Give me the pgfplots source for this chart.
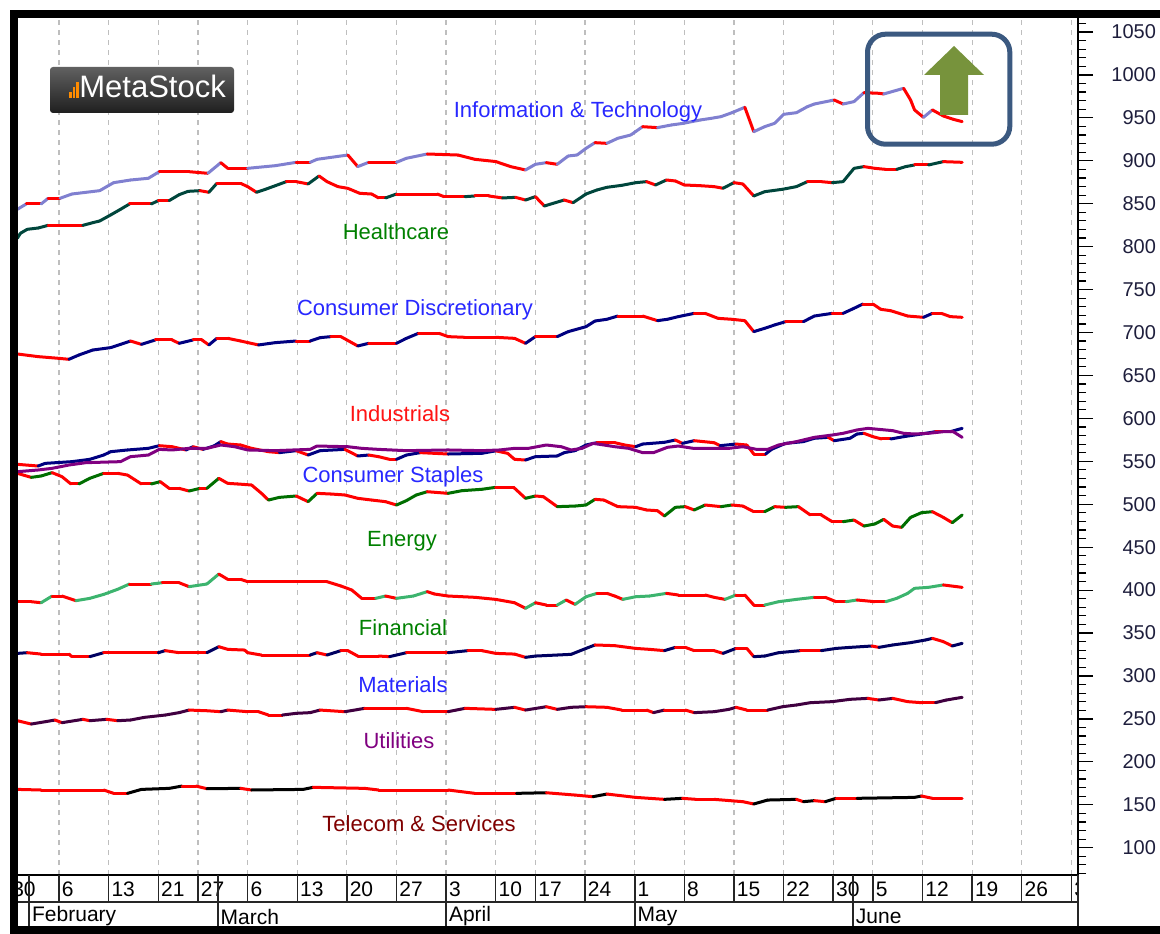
\documentclass[border=0pt]{standalone}
\usepackage{pgfplots}
\usepackage{pgfplotstable}
\pgfplotsset{compat=1.18}
\usepackage{fontspec}
\setmainfont{Liberation Sans}

\definecolor{lblblue}{RGB}{40,40,255}
\definecolor{lblgreen}{RGB}{0,128,0}
\definecolor{lblred}{RGB}{255,20,20}
\definecolor{lblpurple}{RGB}{128,0,128}
\definecolor{lbldred}{RGB}{128,0,0}
\definecolor{boxblue}{RGB}{59,89,128}
\definecolor{arrowgreen}{RGB}{119,147,60}
\definecolor{staples}{RGB}{128,0,128}
\definecolor{gridgray}{RGB}{190,190,190}
\definecolor{ticktext}{RGB}{30,30,60}

\pgfplotsset{
 colormap={cIT}{rgb255=(255,0,0) rgb255=(128,128,208)},
 colormap={cHC}{rgb255=(255,0,0) rgb255=(0,70,60)},
 colormap={cCD}{rgb255=(255,0,0) rgb255=(0,0,128)},
 colormap={cIN}{rgb255=(255,0,0) rgb255=(0,0,128)},
 colormap={cEN}{rgb255=(255,0,0) rgb255=(0,110,0)},
 colormap={cFI}{rgb255=(255,0,0) rgb255=(60,180,110)},
 colormap={cMA}{rgb255=(255,0,0) rgb255=(0,0,96)},
 colormap={cUT}{rgb255=(255,0,0) rgb255=(64,0,64)},
 colormap={cTE}{rgb255=(255,0,0) rgb255=(0,0,0)},
}

\pgfplotstableread{
i v
0.8 843.5
1.7 849.7
3.2 849.7
3.9 856.3
5.1 856.3
6.3 861.3
9.1 865.2
10.5 874.5
12.2 877.6
14.0 879.6
15.1 887.3
18.1 887.3
20.0 885.4
21.3 897.8
22.0 891.2
24.0 891.2
26.8 894.3
28.9 898.2
30.3 898.2
31.0 901.7
34.1 906.7
35.1 893.2
36.2 898.2
39.0 898.2
40.0 902.9
42.1 907.9
45.2 906.7
46.9 901.7
49.0 899.1
50.5 893.2
52.0 889.3
53.0 895.9
54.1 897.8
55.2 895.9
56.3 905.6
57.2 906.7
58.1 914.5
59.0 921.1
60.2 920.3
61.3 926.2
62.6 930.0
63.8 939.7
65.3 938.6
66.7 941.7
67.9 943.6
69.6 947.5
70.7 949.4
71.7 951.4
72.8 956.0
74.1 962.3
75.0 933.9
76.1 939.7
77.1 943.6
78.0 954.1
79.3 956.0
80.4 963.0
81.1 966.1
83.1 970.8
84.0 966.1
85.1 968.9
86.1 979.3
87.6 978.6
88.1 977.8
90.1 984.4
90.8 970.8
91.2 959.2
92.1 950.6
93.0 959.2
94.1 952.2
95.1 948.3
96.0 945.6
}\tIT

\pgfplotstableread{
i v
0.8 809.7
1.1 815.5
1.8 820.2
2.9 821.7
3.9 824.8
7.4 824.8
8.4 827.9
9.1 829.9
10.2 836.9
11.2 843.5
12.1 849.7
14.3 849.7
15.0 853.6
16.1 853.6
17.1 860.5
18.0 864.4
19.2 865.2
20.1 863.3
20.9 873.7
23.3 873.7
24.0 869.9
24.9 863.3
25.8 866.8
26.8 871.0
27.9 875.7
28.9 875.7
30.1 873.0
31.2 882.3
32.0 875.7
33.1 869.9
34.1 867.9
35.3 862.1
36.5 861.3
37.2 856.7
37.9 856.7
39.0 861.3
43.1 861.3
43.8 858.2
45.9 858.2
46.9 859.0
48.3 859.0
49.7 856.7
51.0 857.4
52.0 854.3
53.0 858.2
53.9 847.3
54.8 850.5
55.9 854.3
56.8 851.2
58.1 861.3
59.2 866.0
60.2 869.1
61.7 871.4
63.1 874.5
64.2 875.7
65.1 871.8
66.2 877.6
67.1 876.5
68.0 871.8
69.6 871.0
71.0 869.9
71.9 868.0
73.0 874.5
73.9 873.0
75.0 859.0
76.1 864.0
77.9 866.8
79.3 869.9
80.4 875.7
81.8 875.7
82.9 874.5
84.0 875.7
85.1 891.2
86.1 893.2
87.2 891.2
88.3 890.0
89.4 890.0
90.3 893.2
91.2 895.1
92.6 895.1
94.1 899.0
96.0 898.2
}\tHC

\pgfplotstableread{
i v
0.8 675.0
2.9 671.9
5.0 669.9
6.0 668.8
7.0 673.8
8.4 679.6
10.2 682.4
11.2 686.2
12.2 690.1
13.3 686.2
14.7 691.3
16.4 691.3
17.1 687.4
18.5 691.3
19.4 691.3
20.1 685.5
20.9 693.2
22.0 693.2
23.3 690.1
25.1 685.5
26.8 688.2
28.9 690.1
30.3 690.1
31.3 694.0
32.4 695.2
33.4 695.2
35.1 684.3
36.2 687.4
39.0 687.4
40.0 693.2
41.2 699.0
43.3 699.0
44.2 695.2
45.9 694.4
49.0 694.4
50.9 693.2
52.0 687.4
53.0 695.2
55.2 695.2
56.3 701.0
58.1 706.8
59.0 713.4
60.2 715.4
61.3 719.2
63.8 719.2
65.3 713.8
66.3 715.4
67.4 718.5
69.0 722.3
70.1 722.3
71.4 716.5
72.8 715.4
74.1 713.8
75.0 701.0
76.1 704.9
77.1 708.8
78.2 712.6
80.0 712.6
81.1 719.2
82.9 722.3
84.0 722.3
85.1 728.2
86.0 733.2
87.0 733.2
87.8 727.0
88.8 725.4
90.5 719.2
92.1 717.7
93.0 722.3
93.9 722.3
94.8 718.5
96.0 717.7
}\tCD

\pgfplotstableread{
i v
0.8 546.5
2.9 544.5
3.6 547.6
6.3 549.6
8.1 552.3
9.5 557.3
10.2 561.2
11.9 563.2
14.0 565.1
15.1 568.2
16.4 567.0
17.8 563.2
18.5 567.0
19.5 563.9
20.6 567.8
21.3 572.9
22.0 570.1
23.3 569.0
24.4 565.1
26.1 561.2
27.2 560.1
28.9 562.4
30.1 557.3
31.3 562.4
33.8 563.9
35.1 556.2
36.2 557.3
37.2 555.4
38.3 552.3
39.0 552.3
40.0 557.3
41.4 560.1
44.2 558.5
47.6 559.3
49.0 562.2
50.2 559.3
50.9 552.3
52.0 551.5
53.0 555.4
55.2 556.2
55.9 560.1
57.0 562.4
58.1 569.0
59.2 571.7
61.0 571.7
62.0 569.0
63.1 567.0
63.8 570.1
66.0 572.1
67.1 574.8
67.8 570.9
69.0 574.0
71.0 571.7
71.6 568.2
73.2 570.1
74.3 569.0
75.0 558.5
76.2 558.5
76.8 564.0
78.2 570.9
80.0 572.9
81.1 576.8
82.5 577.9
83.1 574.0
84.7 576.8
85.4 581.8
86.1 582.6
87.0 578.7
87.9 576.0
88.8 576.0
90.1 578.7
91.9 581.8
93.3 584.5
94.8 584.5
96.0 588.4
}\tIN

\pgfplotstableread{
i v
0.8 537.9
2.9 539.9
4.3 541.8
6.0 545.7
7.7 548.4
11.2 549.6
12.2 555.4
14.0 557.3
15.1 563.9
16.4 563.2
18.1 565.1
19.9 565.1
21.3 569.0
22.7 567.0
24.0 563.2
26.8 562.4
28.6 563.2
30.3 563.9
31.0 567.8
34.1 567.0
35.5 565.1
37.2 563.9
40.0 562.4
44.2 563.2
47.6 562.4
49.4 563.2
50.9 565.1
52.3 565.1
54.1 569.0
55.6 567.0
56.6 563.2
57.7 565.1
58.8 570.9
59.9 569.0
61.0 567.0
62.4 565.1
63.8 560.1
64.9 560.1
66.3 566.3
67.4 567.8
68.9 565.1
72.5 565.1
73.9 567.0
75.3 563.9
76.4 563.9
77.5 569.0
79.3 572.9
81.1 577.9
82.9 580.6
84.0 582.6
85.4 586.5
86.5 588.4
87.6 587.2
89.0 585.7
90.1 582.6
91.2 581.8
92.6 582.6
94.1 584.5
95.1 584.5
96.0 577.9
}\tCS

\pgfplotstableread{
i v
0.8 536.0
2.2 531.3
3.2 532.9
4.3 536.8
5.3 532.1
6.2 523.6
7.0 523.6
8.1 530.2
9.5 536.0
10.9 536.0
11.9 534.0
13.3 523.6
14.3 523.6
15.2 526.3
16.1 518.5
17.1 518.5
18.1 515.4
19.2 518.5
19.9 518.5
21.1 530.2
22.0 524.3
23.0 523.6
24.4 522.4
25.4 512.7
26.1 504.9
27.2 508.0
28.9 509.6
30.1 503.0
31.0 512.7
32.4 511.9
33.8 510.8
35.1 506.9
36.5 504.9
37.9 503.0
39.0 499.1
40.0 504.2
41.0 510.8
42.1 514.6
44.2 512.7
45.6 515.8
47.6 517.4
49.0 519.7
50.8 519.7
52.0 506.9
53.0 509.6
53.8 508.8
55.2 497.2
57.0 497.9
58.1 499.1
59.0 505.7
59.9 504.9
61.3 497.2
63.1 496.4
64.2 493.3
65.3 492.5
66.0 486.3
67.1 496.4
68.1 497.2
69.0 493.3
70.1 499.1
71.7 497.2
72.8 499.1
73.9 497.9
75.0 491.3
76.1 491.3
77.1 497.2
78.2 496.4
79.5 497.2
80.7 487.5
81.8 487.5
82.9 479.7
84.0 479.7
85.1 481.6
86.1 474.6
87.2 477.0
88.1 482.4
89.0 474.6
89.9 473.1
90.8 484.7
91.9 490.2
93.0 491.3
94.1 484.7
95.0 478.5
96.0 487.5
}\tEN

\pgfplotstableread{
i v
0.8 386.5
2.2 386.5
3.2 385.3
4.3 393.1
5.3 393.1
6.7 387.7
8.1 390.4
9.5 395.0
10.9 400.9
12.1 407.1
14.3 407.1
15.4 408.6
17.1 408.6
18.1 404.0
19.9 407.1
21.1 418.7
22.0 412.5
23.3 412.5
24.0 409.8
32.0 409.8
33.4 404.8
34.5 400.1
35.5 390.4
36.9 390.4
37.9 393.1
39.0 390.4
40.7 393.1
42.1 398.2
42.8 395.5
44.2 393.1
46.9 391.6
49.0 389.2
50.9 385.3
52.0 378.8
53.0 385.3
54.1 382.6
55.2 382.6
56.1 388.5
57.0 383.4
58.1 392.3
59.2 396.2
60.2 396.2
61.0 393.1
61.8 389.2
63.1 392.3
64.5 393.1
66.2 396.2
67.4 394.3
70.1 394.3
71.0 391.6
72.1 389.2
73.2 394.3
74.1 394.3
75.0 382.6
76.1 382.6
77.5 386.5
79.3 389.2
81.1 391.6
82.2 391.6
83.3 386.5
84.3 386.5
85.4 388.5
87.2 386.5
88.3 386.5
89.4 390.4
90.5 396.2
91.2 402.1
92.6 403.2
94.1 406.0
96.0 403.2
}\tFI

\pgfplotstableread{
i v
0.8 326.3
1.8 327.1
3.2 325.5
6.0 325.5
6.3 322.5
8.1 322.5
9.5 327.1
15.0 327.1
15.7 329.5
17.1 327.1
19.9 327.1
21.1 334.1
22.0 331.0
23.7 330.2
24.0 327.1
25.4 324.4
30.3 324.4
31.0 327.1
32.0 324.4
33.4 329.5
34.1 329.5
35.1 323.2
37.2 323.2
38.3 322.5
40.0 327.1
44.2 327.1
46.2 329.5
47.6 329.5
49.0 326.3
50.9 325.5
52.0 321.7
53.0 323.2
55.2 324.4
56.6 325.2
58.1 332.1
59.0 336.1
61.0 335.3
63.1 332.1
64.5 331.0
66.0 329.5
67.1 333.3
68.1 333.3
69.0 329.5
71.0 329.5
71.9 326.3
73.2 332.1
74.3 332.1
75.0 322.5
76.1 323.2
77.5 327.1
79.7 329.5
81.8 329.5
83.3 332.1
84.7 333.3
86.9 334.9
87.6 333.3
89.0 336.1
90.8 338.8
92.3 341.9
93.0 343.8
94.1 340.0
95.0 334.9
96.0 338.0
}\tMA

\pgfplotstableread{
i v
0.8 247.9
2.2 244.0
3.6 246.7
4.6 248.7
5.3 245.6
7.4 249.5
8.1 247.9
9.8 249.5
10.9 247.9
12.2 248.7
13.6 251.8
15.7 254.5
17.1 257.3
18.1 260.3
19.9 259.5
21.3 258.4
22.0 260.3
24.0 258.4
25.1 258.4
26.1 254.5
27.5 254.5
28.9 256.5
30.3 257.3
31.3 260.3
33.8 258.4
35.8 262.3
40.0 262.3
41.7 258.4
44.2 258.4
45.9 262.3
49.0 261.1
50.9 263.5
52.0 260.3
54.1 264.2
55.2 261.1
56.6 263.5
58.1 264.2
60.2 263.5
61.7 260.3
64.2 260.3
64.9 257.3
66.0 260.3
68.1 260.3
69.0 257.3
71.0 258.4
72.5 261.1
73.2 263.5
74.3 260.3
76.4 260.3
77.9 264.2
79.3 266.2
80.7 268.9
82.9 270.1
84.7 272.8
86.5 273.9
87.6 272.0
89.0 273.9
90.5 270.1
91.9 268.9
93.3 268.9
94.4 272.0
96.0 275.1
}\tUT

\pgfplotstableread{
i v
0.8 167.9
3.2 167.2
9.5 167.2
10.5 163.3
11.9 163.3
13.3 167.9
16.1 169.1
17.4 171.8
18.8 171.8
19.9 168.7
23.3 169.1
24.4 167.2
29.6 167.9
30.6 170.3
35.8 169.1
37.2 167.2
44.2 167.2
46.9 163.3
51.1 163.3
54.1 164.0
57.0 161.3
58.8 159.4
60.2 162.5
63.1 158.6
66.0 156.3
67.8 157.5
69.2 156.3
71.0 156.3
73.9 153.6
75.0 150.9
76.4 155.5
79.3 156.3
80.0 153.6
81.1 154.8
82.2 153.6
83.3 157.5
85.4 157.5
91.2 158.6
91.9 160.2
93.0 157.5
96.0 157.5
}\tTE

\pgfplotstablecreatecol[create col/expr={\nextrow{v}-\thisrow{v}}]{d}{\tIT}
\pgfplotstablecreatecol[create col/expr={\nextrow{v}-\thisrow{v}}]{d}{\tHC}
\pgfplotstablecreatecol[create col/expr={\nextrow{v}-\thisrow{v}}]{d}{\tCD}
\pgfplotstablecreatecol[create col/expr={\nextrow{v}-\thisrow{v}}]{d}{\tIN}
\pgfplotstablecreatecol[create col/expr={\nextrow{v}-\thisrow{v}}]{d}{\tEN}
\pgfplotstablecreatecol[create col/expr={\nextrow{v}-\thisrow{v}}]{d}{\tFI}
\pgfplotstablecreatecol[create col/expr={\nextrow{v}-\thisrow{v}}]{d}{\tMA}
\pgfplotstablecreatecol[create col/expr={\nextrow{v}-\thisrow{v}}]{d}{\tUT}
\pgfplotstablecreatecol[create col/expr={\nextrow{v}-\thisrow{v}}]{d}{\tTE}

\begin{document}
\begin{tikzpicture}
\useasboundingbox (0,0) rectangle (580pt,466.5pt);
\begin{axis}[
  at={(9pt,29pt)}, anchor=south west,
  width=530pt, height=428.5pt, scale only axis,
  xmin=0.8665, xmax=107.67, ymin=68.2, ymax=1066.3,
  axis x line*=bottom, axis y line*=right,
  axis line style={line width=0.6pt, black},
  xtick={0,5,10,15,19,24,29,34,39,44,49,53,58,63,68,73,78,83,87,92,97,102,107},
  xticklabels={}, xtick style={draw=none},
  xmajorgrids, grid style={gridgray, line width=0.6pt, dash pattern=on 2.5pt off 2.5pt},
  ytick={100,150,...,1050}, minor ytick={70,80,...,1060},
  tick align=outside, major tick length=7.5pt, minor tick length=4pt,
  ytick style={black, line width=0.6pt},
  yticklabel style={anchor=east, xshift=35pt, text=ticktext, font=\fontsize{10}{12}\selectfont},
  /pgf/number format/1000 sep={},
  /pgf/number format/assume math mode=true,
  point meta min=0, point meta max=1,
  every axis plot/.append style={line width=1.5pt, line cap=round, line join=round},
]
\addplot[mesh, shader=flat corner, colormap name=cTE, point meta={\thisrow{d}>0}] table[x=i,y=v]{\tTE};
\addplot[mesh, shader=flat corner, colormap name=cUT, point meta={\thisrow{d}>0}] table[x=i,y=v]{\tUT};
\addplot[mesh, shader=flat corner, colormap name=cMA, point meta={\thisrow{d}>0}] table[x=i,y=v]{\tMA};
\addplot[mesh, shader=flat corner, colormap name=cFI, point meta={\thisrow{d}>0}] table[x=i,y=v]{\tFI};
\addplot[mesh, shader=flat corner, colormap name=cEN, point meta={\thisrow{d}>0}] table[x=i,y=v]{\tEN};
\addplot[mesh, shader=flat corner, colormap name=cIN, point meta={\thisrow{d}>0}] table[x=i,y=v]{\tIN};
\addplot[staples] table[x=i,y=v]{\tCS};
\addplot[mesh, shader=flat corner, colormap name=cCD, point meta={\thisrow{d}>0}] table[x=i,y=v]{\tCD};
\addplot[mesh, shader=flat corner, colormap name=cHC, point meta={\thisrow{d}>0}] table[x=i,y=v]{\tHC};
\addplot[mesh, shader=flat corner, colormap name=cIT, point meta={\thisrow{d}>0}] table[x=i,y=v]{\tIT};
\end{axis}

% logo shading (pt coordinates)
\shade[top color=black!62, bottom color=black!88, rounded corners=1.5pt] (25pt,410pt) rectangle (117pt,433pt);

\begin{scope}[x=0.5pt,y=-0.5pt,shift={(0pt,466.5pt)}]
 % series labels
 \begin{scope}[every node/.style={font=\fontsize{11}{13}\selectfont, inner sep=0pt}]
  \node[text=lblblue] at (578,112) {Information \& Technology};
  \node[text=lblgreen] at (396,232) {Healthcare};
  \node[text=lblblue] at (415,310) {Consumer Discretionary};
  \node[text=lblred] at (400,414) {Industrials};
  \node[text=lblblue] at (393,477) {Consumer Staples};
  \node[text=lblgreen] at (402,541) {Energy};
  \node[text=lblgreen] at (403,628) {Financial};
  \node[text=lblblue] at (403,685) {Materials};
  \node[text=lblpurple] at (399,741) {Utilities};
  \node[text=lbldred] at (419,824) {Telecom \& Services};
 \end{scope}
 % logo
 \fill[orange!90!yellow] (69,92) rectangle (71.5,98);
 \fill[orange!90!yellow] (72.5,87) rectangle (75,98);
 \fill[orange!90!yellow] (76,82) rectangle (78.5,98);
 \node[anchor=base west, inner sep=0pt, text=white, font=\fontsize{15.5}{18}\selectfont] at (79,98) {MetaStock};
 % annotation box and arrow
 \draw[boxblue, line width=2.5pt, rounded corners=9pt] (867.5,34.2) rectangle (1009.8,144.2);
 \fill[arrowgreen] (940,115) -- (940,75) -- (924,75) -- (954,46) -- (984,75) -- (968,75) -- (968,115) -- cycle;
 % date rows
 \begin{scope}
  \clip (10,870) rectangle (1078,926);
  \draw[black!85, line width=0.7pt] (10,902) -- (1078,902);
  \foreach \t/\l in {0/30,5/6,10/13,15/21,19/27,24/6,29/13,34/20,39/27,44/3,49/10,53/17,58/24,63/1,68/8,73/15,78/22,83/30,87/5,92/12,97/19,102/26,107/3} {
   \pgfmathsetmacro\xx{9.4+9.925*\t}
   \draw[black!85, line width=0.7pt] (\xx,875) -- (\xx,902);
   \node[anchor=west, inner sep=0pt, font=\fontsize{10.5}{12}\selectfont] at (\xx+2.5,889) {\l};
  }
  \foreach \t/\l in {2/February,21/March,44/April,63/May,85/June} {
   \pgfmathsetmacro\xx{9.4+9.925*\t}
   \draw[black!85, line width=0.9pt] (\xx,875) -- (\xx,926);
   \node[anchor=west, inner sep=0pt, font=\fontsize{10.5}{12}\selectfont] at (\xx+2.5,916.5) {\l};
  }
 \end{scope}
 \draw[black!85, line width=0.7pt] (1078,875) -- (1078,926);
 % outer frame
 \draw[black, line width=4pt] (1200,14) -- (13.5,14) -- (13.5,930) -- (1200,930);
\end{scope}
\end{tikzpicture}
\end{document}
